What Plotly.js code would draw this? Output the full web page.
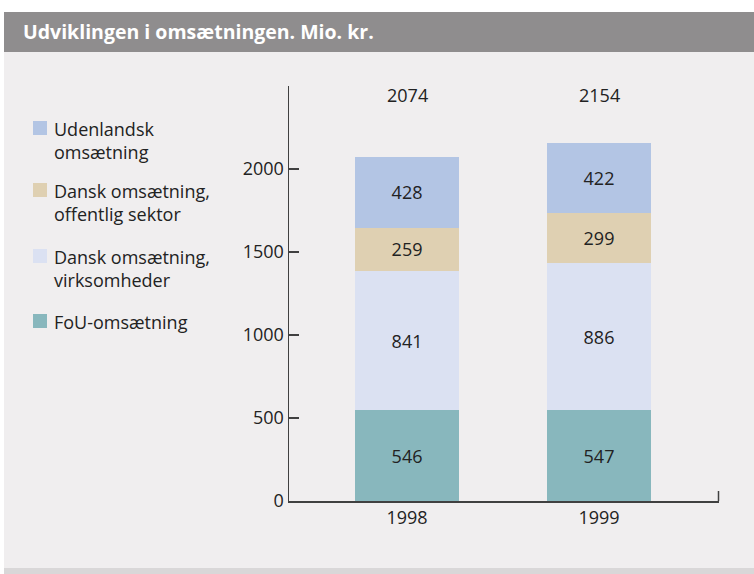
<!DOCTYPE html>
<html>
<head>
<meta charset="utf-8">
<script src="https://cdn.plot.ly/plotly-3.0.1.min.js"></script>
<style>
html,body{margin:0;padding:0;background:#ffffff;}
#chart{width:754px;height:574px;}
</style>
</head>
<body>
<div id="chart"></div>
<script>
// ---- data ----
const years = ["1998", "1999"];
const fou = [546, 547];
const danskVirk = [841, 886];
const danskOff = [259, 299];
const udenlandsk = [428, 422];
const seriesNames = ["FoU-omsætning", "Dansk omsætning,<br>virksomheder", "Dansk omsætning,<br>offentlig sektor", "Udenlandsk<br>omsætning"];
const seriesColors = ["#88b7bd", "#dbe1f2", "#dfd0b2", "#b3c5e4"];
const yTicks = [0, 500, 1000, 1500, 2000];
const titleText = "Udviklingen i omsætningen. Mio. kr.";

const seriesValues = [fou, danskVirk, danskOff, udenlandsk];
const totals = years.map((_, i) => seriesValues.reduce((s, arr) => s + arr[i], 0));

const FONT = "Open Sans, Noto Sans, DejaVu Sans, sans-serif";
const FS = 18;

// plot area in pixels
const L = 289, R = 719, T = 86, B = 501, W = 754, H = 574;
const px = x => (x - L) / (R - L);
const py = y => (B - y) / (B - T);

const traces = seriesValues.map((vals, k) => ({
  type: "bar",
  x: [0, 1],
  y: vals,
  name: seriesNames[k],
  marker: {color: seriesColors[k], line: {width: 0}},
  width: 0.542,
  text: vals.map(String),
  textposition: "inside",
  insidetextanchor: "middle",
  constraintext: "none",
  textfont: {family: FONT, size: FS, color: "#222222"},
  hoverinfo: "skip",
  showlegend: false
}));

const shapes = [
  // panel background
  {type: "rect", xref: "paper", yref: "paper", x0: px(4), x1: px(W + 2), y0: py(568), y1: py(52),
   fillcolor: "#f0eeef", line: {width: 0}, layer: "below"},
  // bottom strip
  {type: "rect", xref: "paper", yref: "paper", x0: px(4), x1: px(W + 2), y0: py(H + 2), y1: py(568),
   fillcolor: "#d9d7d8", line: {width: 0}, layer: "below"},
  // title band
  {type: "rect", xref: "paper", yref: "paper", x0: px(4), x1: px(W + 2), y0: py(52), y1: py(12),
   fillcolor: "#8f8d8e", line: {width: 0}, layer: "below"},
  // end tick of x axis
  {type: "line", xref: "paper", yref: "paper", x0: px(718.5), x1: px(718.5), y0: 0, y1: py(491),
   line: {color: "#404040", width: 1.5}}
];

const annotations = [
  {xref: "paper", yref: "paper", x: px(21), y: py(32), xanchor: "left", yanchor: "middle",
   text: "<b>" + titleText + "</b>", showarrow: false,
   font: {family: FONT, size: 19.5, color: "#ffffff"}}
];

// totals above bars
years.forEach((yr, i) => {
  annotations.push({xref: "x", yref: "paper", x: i, y: py(95), xanchor: "center", yanchor: "middle",
    text: String(totals[i]), showarrow: false, font: {family: FONT, size: FS, color: "#222222"}});
});

// legend (top item first)
const legendOrder = [3, 2, 1, 0];
const legendY = [128, 190, 256, 321];
legendOrder.forEach((k, j) => {
  const yc = legendY[j];
  shapes.push({type: "rect", xref: "paper", yref: "paper", x0: px(33), x1: px(47), y0: py(yc + 7), y1: py(yc - 7),
    fillcolor: seriesColors[k], line: {width: 0}});
  annotations.push({xref: "paper", yref: "paper", x: px(52), y: py(yc - 13), xanchor: "left", yanchor: "top",
    align: "left", text: seriesNames[k], showarrow: false,
    font: {family: FONT, size: FS, color: "#222222"}});
});

const layout = {
  width: W, height: H,
  margin: {l: L, r: W - R, t: T, b: H - B, pad: 0},
  paper_bgcolor: "#ffffff",
  plot_bgcolor: "rgba(0,0,0,0)",
  barmode: "stack",
  showlegend: false,
  font: {family: FONT, size: FS, color: "#222222"},
  xaxis: {
    range: [-0.615, 1.625],
    tickvals: [0, 1], ticktext: years,
    ticks: "", showgrid: false, zeroline: false,
    showline: true, linecolor: "#404040", linewidth: 1.5,
    tickfont: {family: FONT, size: FS, color: "#222222"},
    fixedrange: true
  },
  yaxis: {
    range: [0, 2500],
    tickvals: yTicks,
    ticks: "inside", ticklen: 10, tickwidth: 1.5, tickcolor: "#404040",
    showgrid: false, zeroline: false,
    showline: true, linecolor: "#404040", linewidth: 1.5,
    tickfont: {family: FONT, size: FS, color: "#222222"},
    fixedrange: true
  },
  shapes: shapes,
  annotations: annotations
};

Plotly.newPlot("chart", traces, layout, {displayModeBar: false, staticPlot: true});
</script>
</body>
</html>
